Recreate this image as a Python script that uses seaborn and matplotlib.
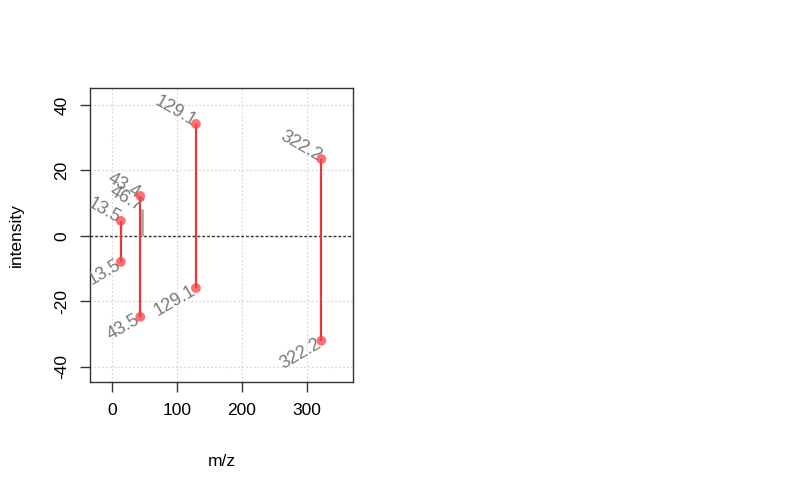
import numpy as np
import pandas as pd
import matplotlib
matplotlib.use("Agg")
import matplotlib.pyplot as plt
import seaborn as sns

# matched peaks (top spectrum positive, bottom spectrum negative)
mz = [13.5, 43.5, 129.1, 322.2]
top_int = [4.6, 12.2, 34.2, 23.5]
bottom_int = [-7.9, -24.7, -15.9, -32.0]
top_labels = ["13.5", "43.4", "129.1", "322.2"]
bottom_labels = ["13.5", "43.5", "129.1", "322.2"]

# unmatched peak
grey_mz = [46.7]
grey_int = [8.2]
grey_labels = ["46.7"]

sns.set_style("white")
plt.rcParams["font.family"] = ["Liberation Sans", "DejaVu Sans"]

fig = plt.figure(figsize=(8, 4.94), dpi=100)
ax = fig.add_axes([0.1125, 0.2267, 0.3288, 0.5953])

xticks = [0, 100, 200, 300]
yticks = [-40, -20, 0, 20, 40]
for v in xticks:
    ax.axvline(v, color="#d3d3d3", lw=0.8, ls=(0, (1.5, 2)), zorder=0)
for v in yticks:
    ax.axhline(v, color="#d3d3d3", lw=0.8, ls=(0, (1.5, 2)), zorder=0)
ax.axhline(0, color="#333333", lw=1.0, ls=(0, (2, 1.5)), zorder=1)

ax.vlines(grey_mz, 0, grey_int, color="#aaaaaa", lw=2, zorder=2)
ax.vlines(mz, bottom_int, top_int, color="#e8383d", lw=1.6, zorder=3)

df = pd.DataFrame({
    "mz": mz + mz,
    "intensity": top_int + bottom_int,
})
sns.scatterplot(data=df, x="mz", y="intensity", ax=ax, color="#ff4040",
                alpha=0.75, s=50, edgecolor="none", zorder=4, legend=False)

lab_kw = dict(color="#7a7a7a", fontsize=13, rotation_mode="anchor", clip_on=True)
for x, y, t in zip(mz, top_int, top_labels):
    ax.text(x - 2, y + 0.5, t, rotation=-30, ha="right", va="center", **lab_kw)
for x, y, t in zip(grey_mz, grey_int, grey_labels):
    ax.text(x - 2, y + 0.5, t, rotation=-30, ha="right", va="center", **lab_kw)
for x, y, t in zip(mz, bottom_int, bottom_labels):
    ax.text(x - 2, y - 0.5, t, rotation=30, ha="right", va="center", **lab_kw)

ax.set_xlim(-34, 371)
ax.set_ylim(-44.6, 45.2)
ax.set_xticks(xticks)
ax.set_yticks(yticks)
ax.set_yticklabels([str(v) for v in yticks], rotation=90, va="center")
ax.tick_params(axis="both", direction="out", length=7, width=1, color="#333333",
               labelsize=12.5, labelcolor="black", pad=8, left=True, bottom=True)
for s in ax.spines.values():
    s.set_color("#333333")
    s.set_linewidth(1)
ax.set_xlabel("m/z", fontsize=12.5, labelpad=26, color="black")
ax.set_ylabel("intensity", fontsize=12.5, labelpad=22, color="black")

fig.savefig("out.png", dpi=100)
